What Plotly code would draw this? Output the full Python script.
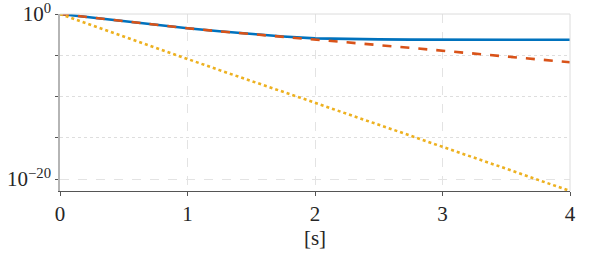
import plotly.graph_objects as go

t = [0, 0.25, 0.5, 0.75, 1, 1.25, 1.5, 1.75, 2, 2.25, 2.5, 2.75, 3, 3.25, 3.5, 3.75, 4]
blue_log10 = [0, -0.45, -0.87, -1.3, -1.72, -2.1, -2.43, -2.72, -2.95, -3.04, -3.08, -3.1, -3.11, -3.12, -3.12, -3.12, -3.12]
orange_log10 = [0, -0.45, -0.87, -1.3, -1.72, -2.1, -2.45, -2.78, -3.07, -3.42, -3.77, -4.1, -4.45, -4.8, -5.15, -5.5, -5.85]
yellow_log10 = [0, -1.38, -2.75, -4.1, -5.45, -6.8, -8.1, -9.45, -10.75, -12.1, -13.4, -14.75, -16.1, -17.4, -18.75, -20.1, -21.45]

x_ticks = [0, 1, 2, 3, 4]
y_major = [1, 1e-20]
y_major_text = ["10<sup>0</sup>", "10<sup>−20</sup>"]
y_minor = [1e-5, 1e-10, 1e-15]
x_label = "[s]"

blue = [10 ** v for v in blue_log10]
orange = [10 ** v for v in orange_log10]
yellow = [10 ** v for v in yellow_log10]

FONT = "Liberation Serif, serif"
TF = dict(family=FONT, size=21, color="#262626")
fig = go.Figure()
fig.add_trace(go.Scatter(x=t, y=blue, mode="lines", line=dict(color="#0072BD", width=2.6)))
fig.add_trace(go.Scatter(x=t, y=orange, mode="lines", line=dict(color="#D95319", width=2.6, dash="dash")))
fig.add_trace(go.Scatter(x=t, y=yellow, mode="lines", line=dict(color="#EDB120", width=2.6, dash="dot")))

fig.update_layout(
    width=590, height=254,
    margin=dict(l=60, r=20, t=14, b=63),
    plot_bgcolor="white", paper_bgcolor="white",
    showlegend=False,
    font=TF,
    xaxis=dict(
        range=[0, 4], tickvals=x_ticks, ticktext=[str(v) for v in x_ticks],
        tickfont=TF, automargin=False, ticklabeloverflow="allow",
        showgrid=True, gridcolor="#e3e3e3", griddash="dash", gridwidth=1,
        showline=True, linecolor="#555555", linewidth=1.2,
        ticks="outside", ticklen=4, tickcolor="#555555",
        zeroline=False,
        title=dict(text=x_label, standoff=0, font=TF),
    ),
    yaxis=dict(
        type="log", range=[-21.45, 0],
        tickfont=TF, automargin=False, ticklabeloverflow="allow",
        tickvals=y_major, ticktext=y_major_text,
        showgrid=True, gridcolor="#e3e3e3", griddash="dash", gridwidth=1,
        showline=True, linecolor="#b5b5b5", linewidth=1.5,
        ticks="outside", ticklen=3, tickcolor="#555555",
        zeroline=False,
        minor=dict(tickvals=y_minor, showgrid=True, gridcolor="#dedede", griddash="dot",
                   ticks="outside", ticklen=3, tickcolor="#555555"),
    ),
    shapes=[
        dict(type="line", xref="paper", yref="paper", x0=0, x1=1, y0=1, y1=1,
             line=dict(color="#dcdcdc", width=1)),
        dict(type="line", xref="paper", yref="paper", x0=1, x1=1, y0=0, y1=1,
             line=dict(color="#dcdcdc", width=1)),
    ],
)
fig.write_html("out.html", config={"displayModeBar": False},
               post_script="document.body.style.margin='0px';")
